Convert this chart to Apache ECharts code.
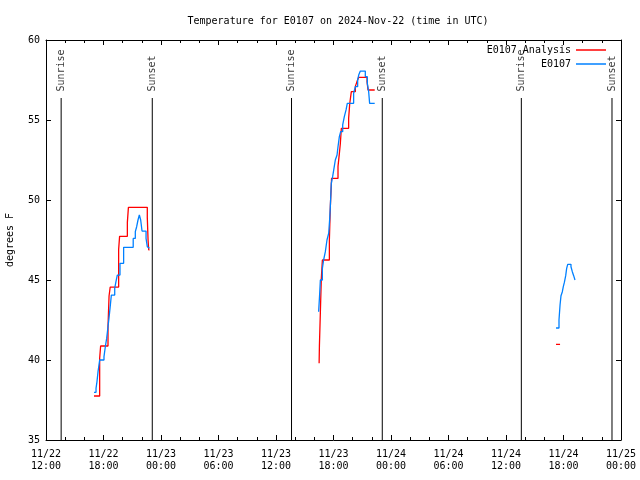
<!DOCTYPE html>
<html><head><meta charset="utf-8">
<script src="https://cdn.jsdelivr.net/npm/echarts@6/dist/echarts.min.js"></script>
<style>html,body{margin:0;padding:0;background:#fff}#c{width:640px;height:480px}</style>
</head><body><div id="c"></div><script>
const FONT = 'DejaVu Sans Mono';
const titleText = 'Temperature for E0107 on 2024-Nov-22 (time in UTC)';
const yLabel = 'degrees F';
const seriesNames = ['E0107 Analysis', 'E0107'];
const seriesColors = ['#ff0000', '#0080ff'];
// x values: hours since 2024-11-22 00:00 UTC
const xMin = 12, xMax = 72, xStep = 6;
const yMin = 35, yMax = 60, yStep = 5;
const sunrise = [13.58, 37.62, 61.60];
const sunset = [23.09, 47.09, 71.06];

const analysisDay1 = [[17.01,37.75],[17.60,40.1],[17.70,40.875],[18.47,42.1],[18.58,44.0],[18.70,44.56],[19.58,46.9],[19.68,47.73],[20.49,48.6],[20.60,49.54],[22.57,48.9],[22.65,47.5],[22.72,46.88],[22.80,46.88]];
const analysisDay2 = [[40.50,39.79],[40.53,40.875],[40.63,43.0],[40.73,45.1],[40.84,46.25],[41.57,47.5],[41.67,49.6],[41.80,51.35],[42.47,52.1],[42.61,52.9],[42.71,53.5],[42.82,54.48],[43.58,55.1],[43.69,56.0],[43.86,56.77],[44.28,57.1],[44.45,57.4],[44.63,57.67],[45.50,57.4],[45.60,56.875],[46.30,56.875]];
const analysisDay3 = [[65.22,40.98],[65.64,40.98]];

const obsDay1 = [[17.01,37.98],[17.22,38.23],[17.32,38.65],[17.43,39.27],[17.60,40.0],[18.05,40.21],[18.19,40.83],[18.33,41.35],[18.47,42.08],[18.57,42.6],[18.68,43.23],[18.82,44.06],[19.17,44.48],[19.30,44.9],[19.44,45.31],[19.72,46.04],[20.10,47.04],[21.10,47.6],[21.32,48.02],[21.46,48.33],[21.60,48.75],[21.74,49.06],[21.88,48.75],[22.02,48.06],[22.44,47.6],[22.57,47.08],[22.70,46.98],[22.80,46.98]];
const obsDay2 = [[40.45,43.02],[40.55,44.06],[40.63,45.0],[40.84,45.73],[40.97,46.25],[41.15,46.77],[41.32,47.5],[41.50,47.92],[41.60,48.8],[41.67,49.58],[41.77,51.04],[41.91,51.46],[42.05,51.98],[42.19,52.5],[42.37,52.81],[42.47,53.33],[42.61,53.96],[42.75,54.27],[42.96,54.69],[43.13,55.21],[43.31,55.63],[43.44,56.04],[44.10,56.67],[44.28,57.08],[44.52,57.5],[44.63,57.81],[44.80,58.06],[45.32,57.71],[45.53,57.29],[45.67,56.77],[45.77,56.04],[46.30,56.04]];
const obsDay3 = [[65.22,42.0],[65.53,42.5],[65.64,43.44],[65.74,44.02],[65.88,44.27],[65.98,44.58],[66.09,44.85],[66.23,45.27],[66.33,45.73],[66.44,45.98],[66.78,45.83],[66.92,45.52],[67.06,45.27],[67.20,45.0],[67.27,45.0]];

const markerTop = 56.375;

function fmtX(h) {
  const day = 22 + Math.floor(h / 24);
  const hh = Math.round(h % 24);
  return '11/' + day + '\n' + String(hh).padStart(2, '0') + ':00';
}

const series = [];
[analysisDay1, analysisDay2, analysisDay3].forEach(d => series.push({
  name: seriesNames[0], type: 'line', step: 'end', data: d, symbol: 'none', showSymbol: false,
  lineStyle: {color: seriesColors[0], width: 1.3}, itemStyle: {color: seriesColors[0]}, z: 3
}));
[obsDay1, obsDay2, obsDay3].forEach(d => series.push({
  name: seriesNames[1], type: 'line', step: 'end', data: d, symbol: 'none', showSymbol: false,
  lineStyle: {color: seriesColors[1], width: 1.3}, itemStyle: {color: seriesColors[1]}, z: 4
}));
const events = [];
sunrise.forEach(t => events.push([t, 'Sunrise']));
sunset.forEach(t => events.push([t, 'Sunset']));
events.forEach(([t, name]) => series.push({
  type: 'line', data: [[t, yMin], [t, markerTop]], symbol: 'none', silent: true,
  lineStyle: {color: '#000', width: 1}, z: 2
}));
series.push({
  type: 'scatter', symbolSize: 1, itemStyle: {color: 'rgba(0,0,0,0)'}, silent: true,
  data: events.map(([t, name]) => [t, markerTop, name]),
  label: {show: true, position: 'top', distance: 6, rotate: 90, align: 'left', verticalAlign: 'middle',
    formatter: p => p.value[2], fontFamily: FONT, fontSize: 10, color: '#000'}
});

const axisCommon = {
  axisLine: {show: true, lineStyle: {color: '#000', width: 1}},
  splitLine: {show: false}
};

const chart = echarts.init(document.getElementById('c'), null, {renderer: 'canvas'});
chart.setOption({
  animation: false,
  backgroundColor: '#fff',
  title: {text: titleText, left: 333, top: 11, textAlign: 'center',
    textStyle: {fontFamily: FONT, fontSize: 10, fontWeight: 'normal', color: '#000'}},
  legend: {
    data: seriesNames.map((n, i) => ({name: n, icon: 'rect', itemStyle: {color: seriesColors[i]}})),
    orient: 'vertical', right: 29, top: 38, align: 'right',
    itemWidth: 30, itemHeight: 1.5, itemGap: 0,
    textStyle: {fontFamily: FONT, fontSize: 10, color: '#000', lineHeight: 14}},
  grid: {left: 46, right: 19, top: 40, bottom: 40, containLabel: false, outerBoundsMode: 'none'},
  xAxis: [
    Object.assign({type: 'value', min: xMin, max: xMax, interval: xStep, position: 'bottom',
      axisTick: {show: true, inside: true, length: 5, lineStyle: {color: '#000'}},
      minorTick: {show: true, splitNumber: 3, length: 3, lineStyle: {color: '#000'}},
      axisLabel: {formatter: fmtX, fontFamily: FONT, fontSize: 10, color: '#000', lineHeight: 12, margin: 8}}, axisCommon),
    Object.assign({type: 'value', min: xMin, max: xMax, interval: xStep, position: 'top',
      axisTick: {show: true, inside: true, length: 5, lineStyle: {color: '#000'}},
      minorTick: {show: true, splitNumber: 3, length: 3, lineStyle: {color: '#000'}},
      axisLabel: {show: false}}, axisCommon)
  ],
  yAxis: [
    Object.assign({type: 'value', min: yMin, max: yMax, interval: yStep, position: 'left',
      name: yLabel, nameLocation: 'middle', nameGap: 31,
      nameTextStyle: {fontFamily: FONT, fontSize: 10, color: '#000'},
      axisTick: {show: true, inside: true, length: 5, lineStyle: {color: '#000'}},
      axisLabel: {fontFamily: FONT, fontSize: 10, color: '#000', margin: 6}}, axisCommon),
    Object.assign({type: 'value', min: yMin, max: yMax, interval: yStep, position: 'right',
      axisTick: {show: true, inside: true, length: 5, lineStyle: {color: '#000'}},
      axisLabel: {show: false}}, axisCommon)
  ],
  series: series
});
</script></body></html>
